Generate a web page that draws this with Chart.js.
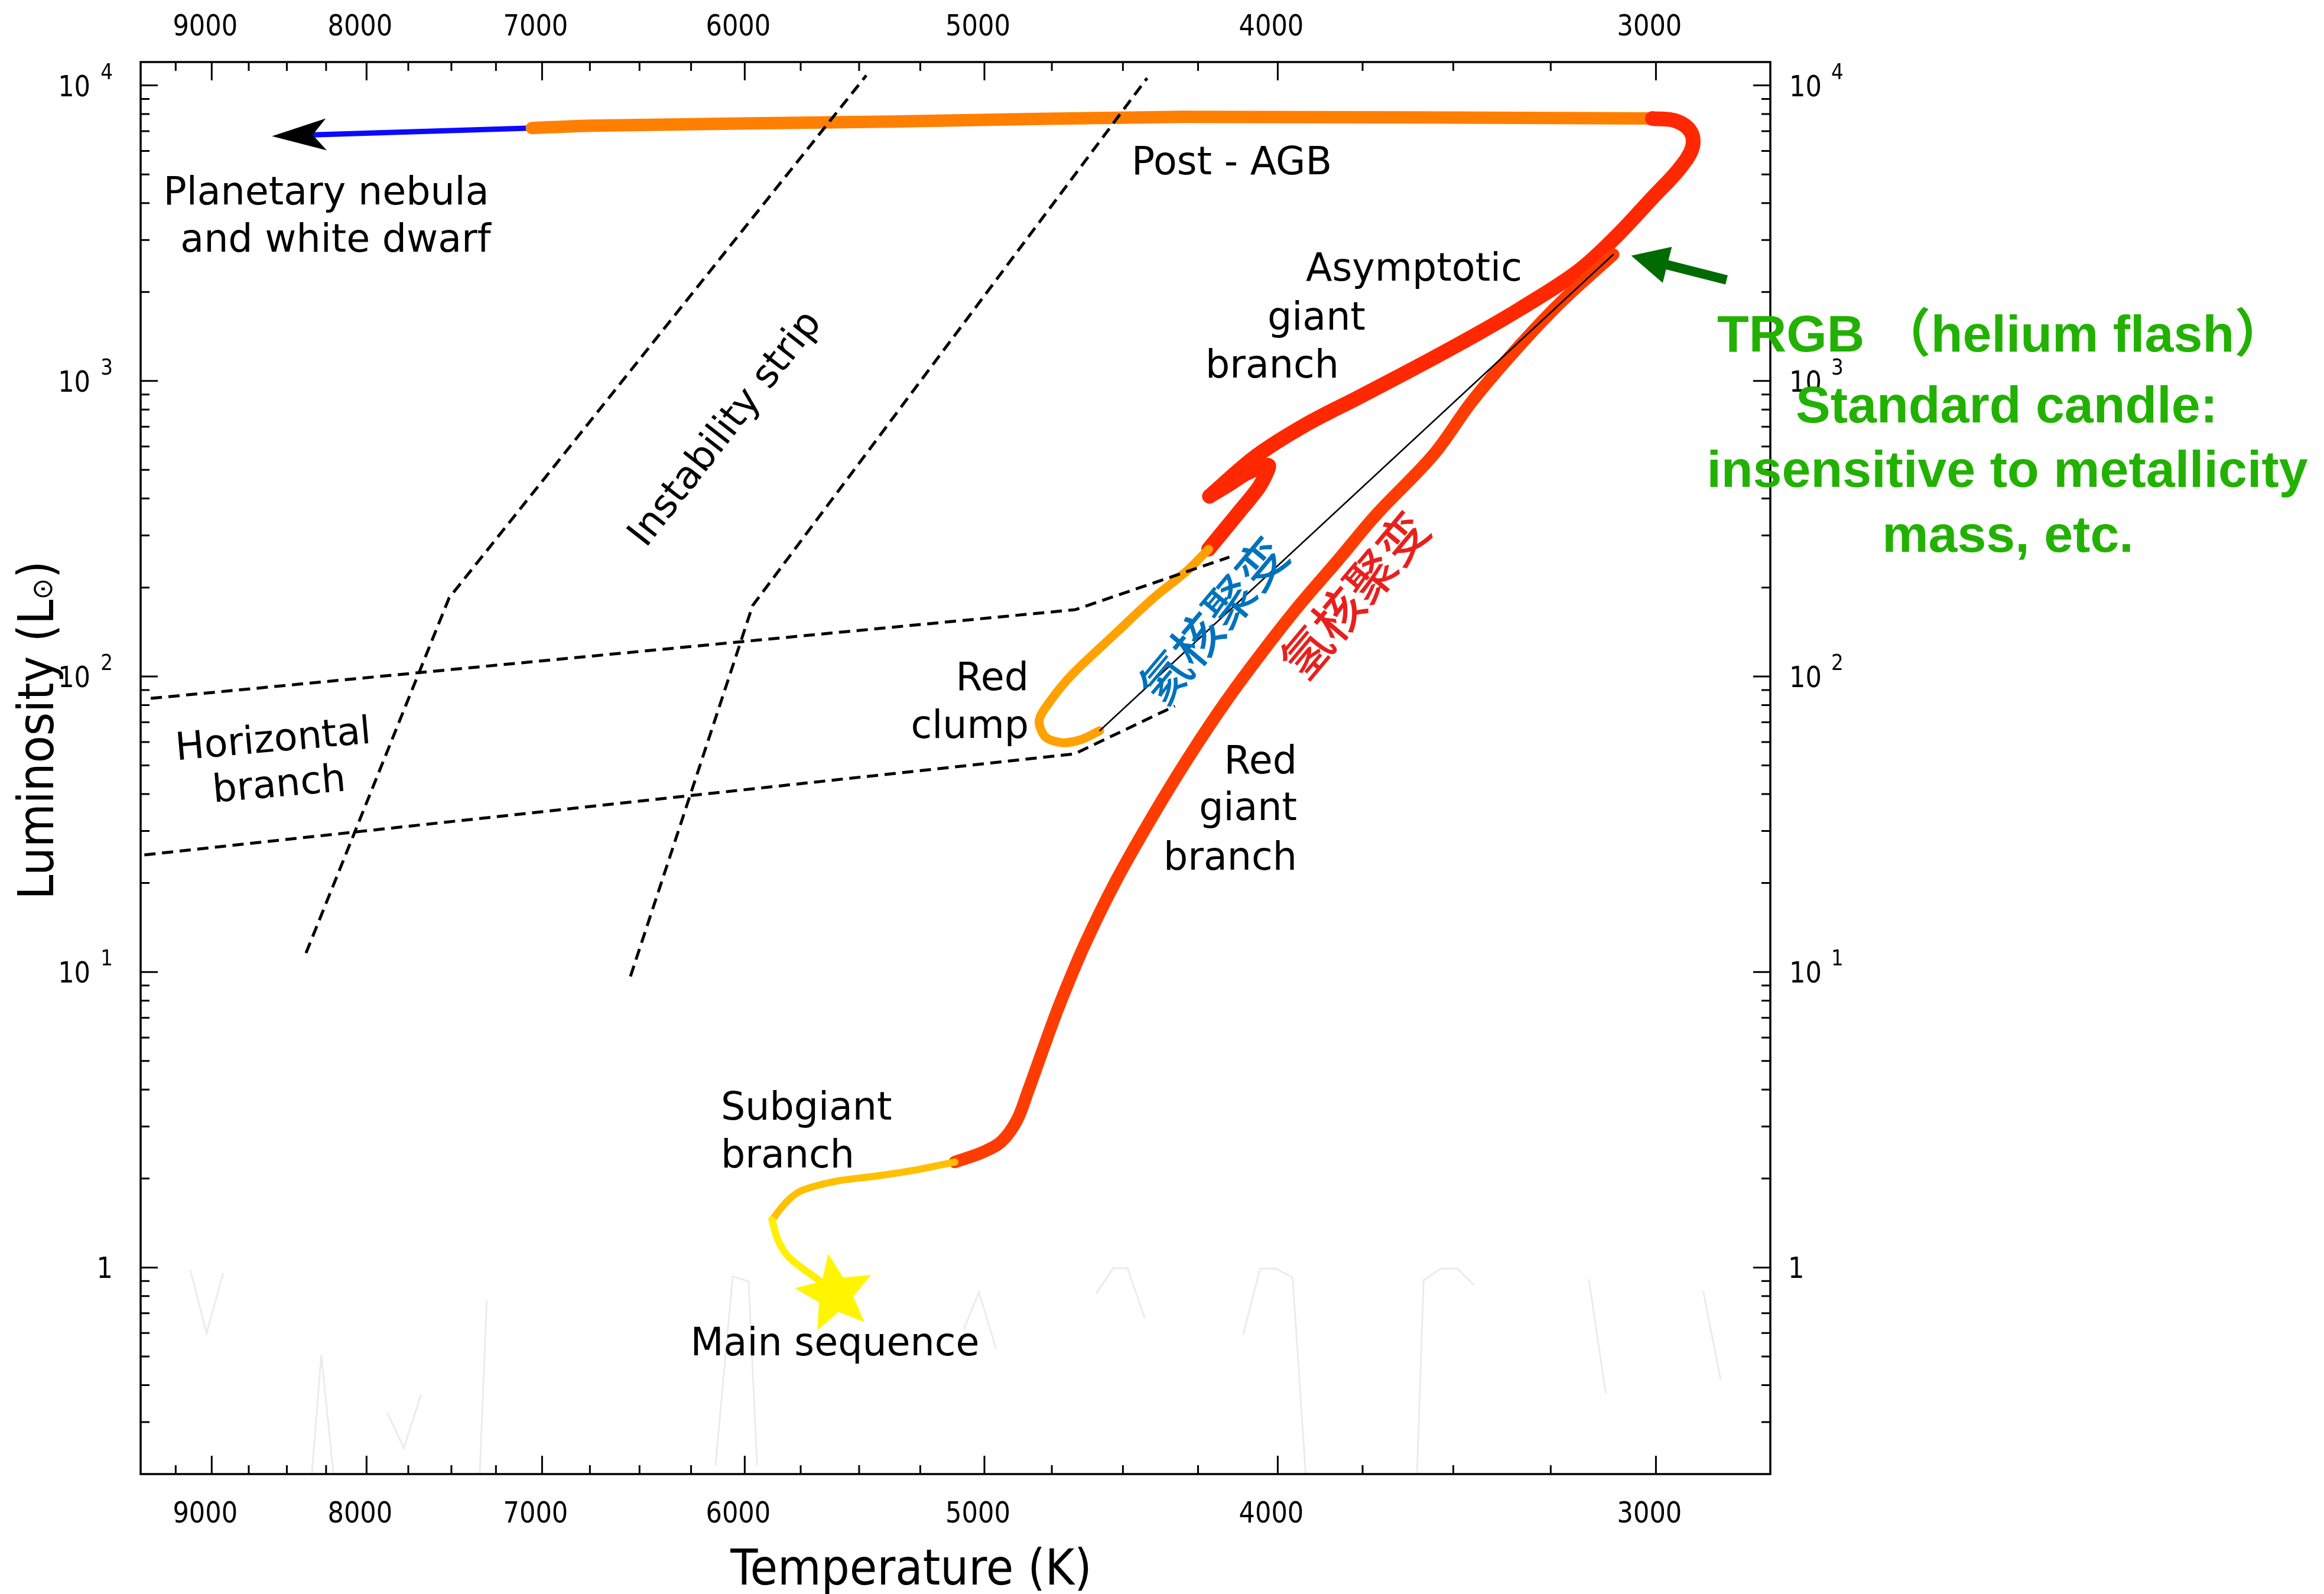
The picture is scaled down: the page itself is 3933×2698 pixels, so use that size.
<!DOCTYPE html>
<html>
<head>
<meta charset="utf-8">
<script src="https://cdn.jsdelivr.net/npm/chart.js@4.4.1/dist/chart.umd.min.js"></script>
<style>
  html, body { margin: 0; padding: 0; background: #ffffff; }
  canvas { display: block; }
</style>
</head>
<body>
<canvas id="hr" width="3933" height="2698"></canvas>
<script>
// ---------- axis ticks ----------
const xMajorTicks = [3000, 4000, 5000, 6000, 7000, 8000, 9000];
const xTickLabels = ['3000', '4000', '5000', '6000', '7000', '8000', '9000'];
const xMinorTicks = [3250, 3500, 3750, 4250, 4500, 4750, 5250, 5500, 5750, 6250, 6500, 6750,
                     7250, 7500, 7750, 8250, 8500, 8750, 9250];
const yMajorTicks = [1, 10, 100, 1000, 10000];
const yTickBase = ['1', '10', '10', '10', '10'];
const yTickExp = ['', '1', '2', '3', '4'];
const yMinorTicks = [0.3, 0.4, 0.5, 0.6, 0.7, 0.8, 0.9, 2, 3, 4, 5, 6, 7, 8, 9,
                     20, 30, 40, 50, 60, 70, 80, 90, 200, 300, 400, 500, 600, 700, 800, 900,
                     2000, 3000, 4000, 5000, 6000, 7000, 8000, 9000];

// ---------- evolutionary track (temperature K, luminosity Lsun) ----------
const starTemp = [5601];
const starLum = [0.814];

const msTemp = [5601, 5678, 5743, 5810, 5852, 5877];
const msLum = [0.814, 0.915, 0.994, 1.102, 1.246, 1.45];

const sgbTemp = [5877, 5809, 5745, 5597, 5424, 5256, 5114];
const sgbLum = [1.45, 1.678, 1.822, 1.959, 2.042, 2.148, 2.275];

const rgbTemp = [5114, 5007, 4936, 4878, 4837, 4782, 4722, 4634, 4523, 4398, 4281, 4162,
                 4047, 3933, 3819, 3711, 3553, 3451, 3345, 3227, 3099];
const rgbLum = [2.275, 2.455, 2.667, 3.148, 3.945, 5.47, 7.762, 12.30, 20.42, 33.88, 53.2, 82.0,
                121, 175.4, 248.9, 353, 563, 851.1, 1242, 1836, 2679];

const flashTemp = [3099, 4580];
const flashLum = [2679, 65.55];

const clumpTemp = [4580, 4647, 4713, 4774, 4796, 4755, 4674, 4525, 4396, 4283, 4216];
const clumpLum = [65.55, 61.1, 59.7, 62.5, 71.1, 82.8, 102.3, 140, 184.5, 229.1, 269.8];

const hookTemp = [4216, 4121, 4056, 4028, 4095, 4160, 4213];
const hookLum = [269.8, 358.5, 440, 517.6, 487.5, 440.5, 407.4];

const agbTemp = [4213, 4066, 3919, 3759, 3595, 3436, 3324, 3184, 3094, 3008, 2947, 2918,
                 2922, 2955, 3008];
const agbLum = [407.4, 557.2, 707.9, 883.1, 1122, 1445, 1762, 2344, 3062, 4169, 5224, 6166,
                6982, 7586, 7727];

const postAgbTemp = [3008, 4302, 5364, 6745, 7055];
const postAgbLum = [7727, 7834, 7551, 7311, 7178];

const pnTemp = [7055, 8334];
const pnLum = [7178, 6806];
const pnArrowTip = [8597, 6737];

// ---------- guide regions ----------
const stripLeftTemp = [8377, 7513, 5470];
const stripLeftLum = [11.59, 184.5, 10814];
const stripRightTemp = [6545, 5964, 4418];
const stripRightLum = [9.66, 173.8, 10588];
const hbUpperTemp = [9427, 4666, 4150];
const hbUpperLum = [84.3, 168.3, 253.5];
const hbLowerTemp = [9473, 4669, 4326];
const hbLowerLum = [24.9, 54.7, 79.4];

// TRGB pointer (tail -> tip)
const trgbArrowTemp = [2843, 3057];
const trgbArrowLum = [2198, 2655];

// faint strokes along the bottom
const faintTemps = [
  [9148, 9035, 8922], [8340, 8280, 8204], [7874, 7776, 7676], [7340, 7301],
  [6135, 6055, 5982, 5944], [5079, 5021, 4956], [4593, 4534, 4484, 4426],
  [4107, 4054, 4005, 3955, 3916], [3598, 3580, 3534, 3489, 3445], [3157, 3117], [2894, 2856]
];
const faintLums = [
  [0.98, 0.60, 0.957], [0.2, 0.506, 0.2], [0.322, 0.245, 0.3705], [0.2, 0.776],
  [0.214, 0.934, 0.897, 0.214], [0.619, 0.826, 0.531], [0.817, 0.994, 0.994, 0.673],
  [0.592, 0.991, 0.991, 0.925, 0.2], [0.2, 0.904, 0.991, 0.991, 0.871], [0.913, 0.375], [0.832, 0.417]
];

// ---------- helpers ----------
const pts = (ts, ls) => ts.map((t, i) => ({ x: t, y: ls[i] }));

function starImage(R, r, color) {
  const s = Math.ceil(2 * R + 6);
  const c = document.createElement('canvas');
  c.width = s; c.height = s;
  const g = c.getContext('2d');
  g.translate(s / 2, s / 2);
  g.beginPath();
  for (let i = 0; i < 10; i++) {
    const a = -Math.PI / 2 + i * Math.PI / 5;
    const rr = i % 2 ? r : R;
    g.lineTo(rr * Math.cos(a), rr * Math.sin(a));
  }
  g.closePath();
  g.fillStyle = color;
  g.fill();
  return c;
}

function track(data, color, width, order, tension) {
  return {
    data, showLine: true, borderColor: color, backgroundColor: color, borderWidth: width,
    pointRadius: 0, borderCapStyle: 'round', borderJoinStyle: 'round',
    tension: tension, order: order, fill: false
  };
}
function dashed(data) {
  return {
    data, showLine: true, borderColor: '#000000', borderWidth: 5, borderDash: [19, 11],
    pointRadius: 0, tension: 0, order: 0, fill: false, borderCapStyle: 'butt'
  };
}

const datasets = [
  dashed(pts(stripLeftTemp, stripLeftLum)),
  dashed(pts(stripRightTemp, stripRightLum)),
  dashed(pts(hbUpperTemp, hbUpperLum)),
  dashed(pts(hbLowerTemp, hbLowerLum)),
  track(pts(flashTemp, flashLum), '#000000', 2.5, 1, 0),
  {
    data: pts(starTemp, starLum), showLine: false, pointStyle: starImage(69, 31, '#fff500'),
    rotation: -10, pointRadius: 69, order: 2
  },
  track(pts(msTemp, msLum), '#fff000', 12, 3, 0.35),
  track(pts(sgbTemp, sgbLum), '#ffc000', 12, 3, 0.35),
  track(pts(rgbTemp, rgbLum), '#ff3c00', 21, 3, 0.35),
  track(pts(clumpTemp, clumpLum), '#ffa200', 15, 3, 0.3),
  track(pts(hookTemp, hookLum), '#ff2800', 25, 3, 0.25),
  track(pts(agbTemp, agbLum), '#ff2800', 25, 3, 0.35),
  track(pts(postAgbTemp, postAgbLum), '#ff7f00', 21, 4, 0.2),
  track(pts(pnTemp, pnLum), '#0a0aff', 9, 4, 0)
];
faintTemps.forEach((ts, i) => {
  datasets.push({
    data: pts(ts, faintLums[i]), showLine: true, borderColor: 'rgba(0,0,0,0.08)', borderWidth: 3,
    pointRadius: 0, tension: 0, order: 6, fill: false
  });
});

// ---------- text drawing ----------
function drawText(ctx, s, x, y, o) {
  ctx.save();
  ctx.translate(x, y);
  if (o.rot) ctx.rotate(o.rot * Math.PI / 180);
  if (o.sx) ctx.scale(o.sx, 1);
  ctx.font = o.font;
  ctx.fillStyle = o.color || '#000000';
  ctx.textAlign = o.align || 'left';
  ctx.textBaseline = o.baseline || 'alphabetic';
  ctx.fillText(s, 0, 0);
  ctx.restore();
}

const TICK_FONT = '49px "DejaVu Sans"';
const SUP_FONT = '37px "DejaVu Sans"';
const NOTE_FONT = '65px "DejaVu Sans"';
const TITLE_FONT = '84px "DejaVu Sans"';
const SUN_FONT = '48px "DejaVu Sans"';
const CJK_FONT = '500 84px "Noto Sans CJK SC"';
const GREEN_FONT = 'bold 88px "Liberation Sans", Arial, "Noto Sans CJK SC", sans-serif';
const COND = 0.88;

const axesFrame = {
  id: 'axesFrame',
  afterDatasetsDraw(chart) {
    const { ctx, chartArea: a, scales: { x, y } } = chart;
    ctx.save();
    ctx.strokeStyle = '#000000';
    ctx.lineCap = 'butt';
    ctx.lineWidth = 3;
    ctx.beginPath();
    const xt = (v, len) => {
      const p = x.getPixelForValue(v);
      ctx.moveTo(p, a.top); ctx.lineTo(p, a.top + len);
      ctx.moveTo(p, a.bottom); ctx.lineTo(p, a.bottom - len);
    };
    const yt = (v, len) => {
      const p = y.getPixelForValue(v);
      ctx.moveTo(a.left, p); ctx.lineTo(a.left + len, p);
      ctx.moveTo(a.right, p); ctx.lineTo(a.right - len, p);
    };
    xMajorTicks.forEach(v => xt(v, 31));
    xMinorTicks.forEach(v => xt(v, 15));
    yMajorTicks.forEach(v => yt(v, 29));
    yMinorTicks.forEach(v => yt(v, 15));
    ctx.stroke();
    ctx.lineWidth = 3.5;
    ctx.strokeRect(a.left, a.top, a.right - a.left, a.bottom - a.top);

    // x tick labels (top and bottom)
    xMajorTicks.forEach((v, i) => {
      const p = x.getPixelForValue(v) - 11;
      drawText(ctx, xTickLabels[i], p, a.top - 45, { font: TICK_FONT, align: 'center', sx: COND });
      drawText(ctx, xTickLabels[i], p, a.bottom + 82, { font: TICK_FONT, align: 'center', sx: COND });
    });
    // y tick labels (left and right)
    yMajorTicks.forEach((v, i) => {
      const p = y.getPixelForValue(v);
      if (yTickExp[i] === '') {
        drawText(ctx, yTickBase[i], a.left - 47, p + 18, { font: TICK_FONT, align: 'right', sx: COND });
        drawText(ctx, yTickBase[i], a.right + 30, p + 18, { font: TICK_FONT, align: 'left', sx: COND });
      } else {
        drawText(ctx, yTickExp[i], a.left - 47, p - 11, { font: SUP_FONT, align: 'right', sx: COND });
        drawText(ctx, yTickBase[i], a.left - 85, p + 18, { font: TICK_FONT, align: 'right', sx: COND });
        drawText(ctx, yTickBase[i], a.right + 32, p + 18, { font: TICK_FONT, align: 'left', sx: COND });
        drawText(ctx, yTickExp[i], a.right + 103, p - 11, { font: SUP_FONT, align: 'left', sx: COND });
      }
    });

    // axis titles
    drawText(ctx, 'Temperature (K)', 1542, 2682, { font: TITLE_FONT, align: 'center', sx: 0.9 });
    ctx.save();
    ctx.translate(90, 1236);
    ctx.rotate(-Math.PI / 2);
    ctx.scale(0.9, 1);
    ctx.fillStyle = '#000000';
    ctx.textBaseline = 'alphabetic';
    ctx.font = TITLE_FONT;
    const p1 = 'Luminosity (L', p3 = ')';
    const w1 = ctx.measureText(p1).width, w3 = ctx.measureText(p3).width;
    ctx.font = SUN_FONT;
    const w2 = ctx.measureText('\u2299').width;
    const total = w1 + w2 + w3;
    let cx = -total / 2;
    ctx.font = TITLE_FONT; ctx.textAlign = 'left';
    ctx.fillText(p1, cx, 0); cx += w1;
    ctx.font = SUN_FONT;
    ctx.fillText('\u2299', cx, -2); cx += w2;
    ctx.font = TITLE_FONT;
    ctx.fillText(p3, cx, 0);
    ctx.restore();
    ctx.restore();
  },
  afterDraw(chart) {
    const { ctx, scales: { x, y } } = chart;
    const P = (t, l) => [x.getPixelForValue(t), y.getPixelForValue(l)];
    ctx.save();

    // arrowhead at the end of the planetary-nebula track
    const tail = P(pnTemp[0], pnLum[0]);
    const tip = P(pnArrowTip[0], pnArrowTip[1]);
    let dx = tip[0] - tail[0], dy = tip[1] - tail[1];
    let d = Math.hypot(dx, dy); dx /= d; dy /= d;
    let nx = -dy, ny = dx;
    ctx.fillStyle = '#000000';
    ctx.beginPath();
    ctx.moveTo(tip[0], tip[1]);
    ctx.lineTo(tip[0] - 92 * dx + 27 * nx, tip[1] - 92 * dy + 27 * ny);
    ctx.lineTo(tip[0] - 69 * dx, tip[1] - 69 * dy);
    ctx.lineTo(tip[0] - 92 * dx - 27 * nx, tip[1] - 92 * dy - 27 * ny);
    ctx.closePath();
    ctx.fill();

    // TRGB pointer
    const gt = P(trgbArrowTemp[0], trgbArrowLum[0]);
    const gh = P(trgbArrowTemp[1], trgbArrowLum[1]);
    dx = gh[0] - gt[0]; dy = gh[1] - gt[1];
    d = Math.hypot(dx, dy); dx /= d; dy /= d;
    nx = -dy; ny = dx;
    const bx = gh[0] - 63 * dx, by = gh[1] - 63 * dy;
    ctx.fillStyle = '#006b00';
    ctx.beginPath();
    ctx.moveTo(gt[0] + 8 * nx, gt[1] + 8 * ny);
    ctx.lineTo(bx + 8 * nx, by + 8 * ny);
    ctx.lineTo(bx + 31.5 * nx, by + 31.5 * ny);
    ctx.lineTo(gh[0], gh[1]);
    ctx.lineTo(bx - 31.5 * nx, by - 31.5 * ny);
    ctx.lineTo(bx - 8 * nx, by - 8 * ny);
    ctx.lineTo(gt[0] - 8 * nx, gt[1] - 8 * ny);
    ctx.closePath();
    ctx.fill();

    // annotations
    const N = { font: NOTE_FONT };
    drawText(ctx, 'Planetary nebula', 552, 346, { font: NOTE_FONT, align: 'center' });
    drawText(ctx, 'and white dwarf', 568, 426, { font: NOTE_FONT, align: 'center' });
    drawText(ctx, 'Post - AGB', 1915, 295, N);
    drawText(ctx, 'Asymptotic', 2210, 475, N);
    drawText(ctx, 'giant', 2145, 558, N);
    drawText(ctx, 'branch', 2040, 639, N);
    drawText(ctx, 'Red', 1741, 1168, { font: NOTE_FONT, align: 'right' });
    drawText(ctx, 'clump', 1741, 1249, { font: NOTE_FONT, align: 'right' });
    drawText(ctx, 'Red', 2195, 1309, { font: NOTE_FONT, align: 'right' });
    drawText(ctx, 'giant', 2195, 1388, { font: NOTE_FONT, align: 'right' });
    drawText(ctx, 'branch', 2195, 1472, { font: NOTE_FONT, align: 'right' });
    drawText(ctx, 'Horizontal', 464, 1272, { font: NOTE_FONT, align: 'center', rot: -5 });
    drawText(ctx, 'branch', 474, 1348, { font: NOTE_FONT, align: 'center', rot: -5 });
    drawText(ctx, 'Instability strip', 1229, 727, { font: NOTE_FONT, align: 'center', baseline: 'middle', rot: -52 });
    drawText(ctx, 'Subgiant', 1220, 1895, N);
    drawText(ctx, 'branch', 1220, 1976, N);
    drawText(ctx, 'Main sequence', 1413, 2294, { font: NOTE_FONT, align: 'center' });

    drawText(ctx, '氦核聚变', 2053, 1050, { font: CJK_FONT, color: '#0072bc', align: 'center', baseline: 'middle', rot: -50 });
    drawText(ctx, '氢核聚变', 2292, 1007, { font: CJK_FONT, color: '#e8201c', align: 'center', baseline: 'middle', rot: -50 });

    const G = '#22b100';
    drawText(ctx, 'TRGB （helium flash）', 2906, 595, { font: GREEN_FONT, color: G, align: 'left' });
    drawText(ctx, 'Standard candle:', 3396, 715, { font: GREEN_FONT, color: G, align: 'center' });
    drawText(ctx, 'insensitive to metallicity', 3397, 824, { font: GREEN_FONT, color: G, align: 'center' });
    drawText(ctx, 'mass, etc.', 3398, 934, { font: GREEN_FONT, color: G, align: 'center' });
    ctx.restore();
  }
};

new Chart(document.getElementById('hr'), {
  type: 'scatter',
  data: { datasets },
  options: {
    responsive: false,
    animation: false,
    devicePixelRatio: 1,
    events: [],
    layout: { padding: { left: 238, right: 937, top: 105, bottom: 203 } },
    scales: {
      x: { type: 'logarithmic', min: 2750, max: 9500, reverse: true, display: false },
      y: { type: 'logarithmic', min: 0.2, max: 12000, display: false }
    },
    plugins: { legend: { display: false }, tooltip: { enabled: false } }
  },
  plugins: [axesFrame]
});
</script>
</body>
</html>
